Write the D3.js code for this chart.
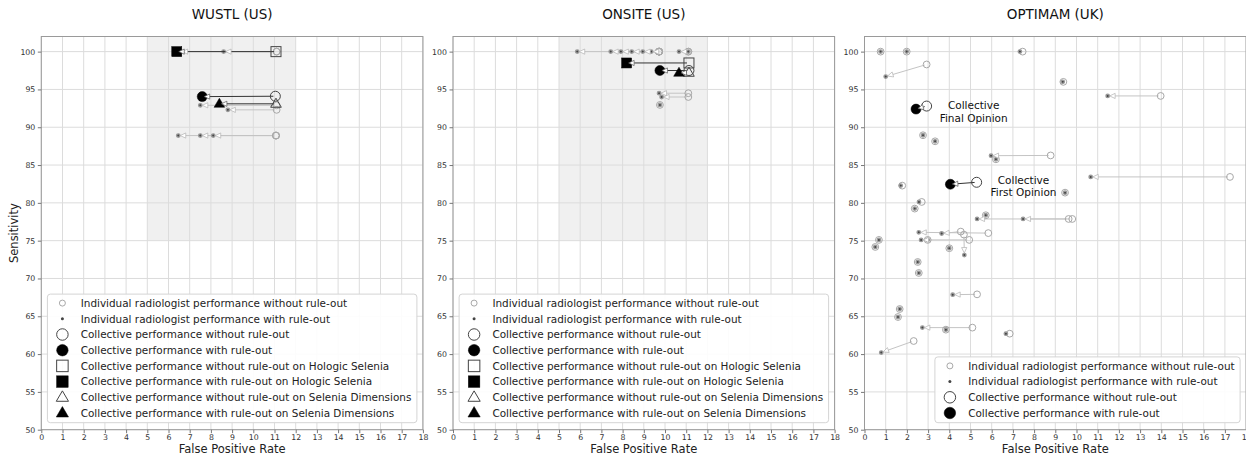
<!DOCTYPE html>
<html lang="en">
<head>
    <title>Rule-out performance</title>
    <meta charset="utf-8">
    <!-- Load d3.js -->
    <script src="https://d3js.org/d3.v7.min.js"></script>
    <style>
        body { margin: 0; background: #fff; }
        text { font-family: "DejaVu Sans", sans-serif; }
    </style>
</head>
<body>
<div id="visualization"></div>
<script>
    // ---------- data ----------
    const panelTitles = ["WUSTL (US)", "ONSITE (US)", "OPTIMAM (UK)"];
    const xTickValues = [0, 1, 2, 3, 4, 5, 6, 7, 8, 9, 10, 11, 12, 13, 14, 15, 16, 17, 18];
    const yTickValues = [50, 55, 60, 65, 70, 75, 80, 85, 90, 95, 100];
    const shadedFpr = [5, 12];
    const shadedSens = [75, 102];

    // individual radiologists, [false positive rate, sensitivity]
    const wustlIndWithout = [[11.1, 100], [11.1, 100], [11.1, 92.9], [11.1, 92.3], [11.07, 88.9], [11.07, 88.9], [11.07, 88.9]];
    const wustlIndWith = [[8.6, 100], [6.55, 100], [7.5, 92.9], [8.8, 92.3], [6.46, 88.9], [7.5, 88.9], [8.11, 88.9]];

    const onsiteIndWithout = [[9.72, 100], [9.72, 100], [9.72, 100], [9.72, 100], [9.72, 100], [9.72, 100], [11.1, 100], [11.1, 100],
        [11.1, 94.5], [11.1, 94.0], [9.76, 92.95]];
    const onsiteIndWith = [[5.86, 100], [7.44, 100], [7.92, 100], [8.43, 100], [8.95, 100], [9.35, 100], [10.66, 100], [11.1, 100],
        [9.72, 94.5], [9.84, 94.0], [9.76, 92.95]];

    const optimamIndWithout = [[0.76, 100], [1.99, 100], [7.46, 100], [2.93, 98.3], [9.38, 96.0], [13.97, 94.14], [2.76, 88.94],
        [3.33, 88.14], [8.78, 86.27], [6.2, 85.76], [17.24, 83.43], [1.78, 82.28], [9.46, 81.35], [2.7, 80.12], [2.37, 79.24],
        [5.72, 78.36], [9.63, 77.87], [9.8, 77.87], [5.84, 76.0], [4.54, 76.2], [4.69, 75.8], [4.94, 75.1], [2.98, 75.1],
        [0.68, 75.1], [0.51, 74.17], [4.0, 74.0], [2.51, 72.18], [2.56, 70.73], [5.31, 67.9], [1.66, 65.96], [1.58, 64.9],
        [5.09, 63.5], [3.84, 63.23], [6.85, 62.7], [2.32, 61.73]];
    const optimamIndWith = [[0.76, 100], [1.99, 100], [7.33, 100], [1.0, 96.7], [9.35, 96.0], [11.47, 94.14], [2.76, 88.94],
        [3.33, 88.14], [5.97, 86.24], [6.2, 85.76], [10.67, 83.43], [1.71, 82.28], [9.46, 81.35], [2.57, 80.12], [2.37, 79.24],
        [5.72, 78.36], [5.31, 77.87], [7.48, 77.87], [2.56, 76.1], [3.64, 75.95], [4.71, 73.1], [2.67, 75.1], [2.98, 75.1],
        [0.68, 75.1], [0.51, 74.17], [4.0, 74.0], [2.51, 72.18], [2.56, 70.73], [4.16, 67.86], [1.66, 65.96], [1.58, 64.9],
        [2.73, 63.5], [3.84, 63.23], [6.67, 62.7], [0.79, 60.2]];

    // collective performance
    const wustlCollShapes = ["square", "circle", "triangle"];
    const wustlCollWithout = [[11.07, 100], [11.04, 94.1], [11.07, 93.1]];
    const wustlCollWith = [[6.39, 100], [7.59, 94.05], [8.4, 93.1]];

    const onsiteCollShapes = ["square", "circle", "triangle"];
    const onsiteCollWithout = [[11.13, 98.5], [11.13, 97.5], [11.13, 97.2]];
    const onsiteCollWith = [[8.19, 98.5], [9.76, 97.5], [10.66, 97.2]];

    const optimamCollShapes = ["circle", "circle"];
    const optimamCollWithout = [[2.93, 92.8], [5.29, 82.72]];
    const optimamCollWith = [[2.43, 92.4], [4.05, 82.46]];

    const optimamNotes = [
        {lines: ["Collective", "Final Opinion"], at: [5.15, 92.9]},
        {lines: ["Collective", "First Opinion"], at: [7.5, 83.0]}
    ];

    const legendLabels = [
        "Individual radiologist performance without rule-out",
        "Individual radiologist performance with rule-out",
        "Collective performance without rule-out",
        "Collective performance with rule-out",
        "Collective performance without rule-out on Hologic Selenia",
        "Collective performance with rule-out on Hologic Selenia",
        "Collective performance without rule-out on Selenia Dimensions",
        "Collective performance with rule-out on Selenia Dimensions"
    ];
    const legendKinds = ["indOpen", "indDot", "circleOpen", "circleFill", "squareOpen", "squareFill", "triangleOpen", "triangleFill"];

    const panels = [
        {indWithout: wustlIndWithout, indWith: wustlIndWith, shapes: wustlCollShapes,
            collWithout: wustlCollWithout, collWith: wustlCollWith, shaded: true, legendCount: 8, notes: []},
        {indWithout: onsiteIndWithout, indWith: onsiteIndWith, shapes: onsiteCollShapes,
            collWithout: onsiteCollWithout, collWith: onsiteCollWith, shaded: true, legendCount: 8, notes: []},
        {indWithout: optimamIndWithout, indWith: optimamIndWith, shapes: optimamCollShapes,
            collWithout: optimamCollWithout, collWith: optimamCollWith, shaded: false, legendCount: 4, notes: optimamNotes}
    ];

    // ---------- layout ----------
    const width = 1246, height = 456;
    const panelLefts = [41.3, 453, 864.5];
    const plotWidth = 381.6, plotTop = 36.5, plotBottom = 429.7;

    const svg = d3.select("#visualization")
        .append("svg")
        .attr("width", width)
        .attr("height", height);

    // marker drawing helper
    const drawMarker = (g, kind, cx, cy, big) => {
        const s = big ? 1.15 : 1;
        if (kind === "indOpen") {
            g.append("circle").attr("cx", cx).attr("cy", cy).attr("r", big ? 3 : 3.4)
                .attr("fill", "none").attr("stroke", "#a8a8a8").attr("stroke-width", 1);
        } else if (kind === "indDot") {
            g.append("circle").attr("cx", cx).attr("cy", cy).attr("r", big ? 1.5 : 1.7)
                .attr("fill", "#444").attr("stroke", big ? "none" : "#9a9a9a").attr("stroke-width", 1.4);
        } else {
            const filled = kind.endsWith("Fill");
            const shape = kind.replace("Open", "").replace("Fill", "");
            let el;
            if (shape === "circle") {
                el = g.append("circle").attr("cx", cx).attr("cy", cy).attr("r", 5 * s);
            } else if (shape === "square") {
                const h = 5 * s;
                el = g.append("rect").attr("x", cx - h).attr("y", cy - h).attr("width", 2 * h).attr("height", 2 * h);
            } else {
                const h = 5.6 * s;
                el = g.append("path")
                    .attr("d", `M${cx},${cy - h}L${cx + h * 0.95},${cy + h * 0.62}L${cx - h * 0.95},${cy + h * 0.62}Z`);
            }
            el.attr("fill", filled ? "#000" : "none")
                .attr("stroke", filled ? "#000" : "#444")
                .attr("stroke-width", filled ? 0.5 : 1);
        }
    };

    // arrow from "without" point to "with" point, head at the "with" end
    const drawArrow = (g, sx, sy, tx, ty, lineColor, lineWidth) => {
        const dx = sx - tx, dy = sy - ty, len = Math.hypot(dx, dy);
        if (len < 5) return;
        const ux = dx / len, uy = dy / len;
        const tipX = tx + ux * 2, tipY = ty + uy * 2;
        const bx = tipX + ux * 5.5, by = tipY + uy * 5.5;
        const px = -uy, py = ux;
        g.append("line")
            .attr("x1", sx - ux * 2).attr("y1", sy - uy * 2)
            .attr("x2", bx).attr("y2", by)
            .attr("stroke", lineColor).attr("stroke-width", lineWidth);
        return `M${tipX},${tipY}L${bx + px * 2.6},${by + py * 2.6}L${bx - px * 2.6},${by - py * 2.6}Z`;
    };

    panels.forEach((p, i) => {
        const x = d3.scaleLinear().domain([0, 18]).range([panelLefts[i], panelLefts[i] + plotWidth]);
        const y = d3.scaleLinear().domain([50, 102]).range([plotBottom, plotTop]);
        const g = svg.append("g");

        // shaded reference band
        if (p.shaded) {
            g.append("rect")
                .attr("x", x(shadedFpr[0])).attr("y", y(shadedSens[1]))
                .attr("width", x(shadedFpr[1]) - x(shadedFpr[0]))
                .attr("height", y(shadedSens[0]) - y(shadedSens[1]))
                .attr("fill", "#f0f0f0");
        }

        // grid
        g.selectAll(".vgrid").data(xTickValues).join("line")
            .attr("x1", d => x(d)).attr("x2", d => x(d))
            .attr("y1", plotTop).attr("y2", plotBottom)
            .attr("stroke", "#dcdcdc").attr("stroke-width", 1);
        g.selectAll(".hgrid").data(yTickValues).join("line")
            .attr("x1", x(0)).attr("x2", x(18))
            .attr("y1", d => y(d)).attr("y2", d => y(d))
            .attr("stroke", "#dcdcdc").attr("stroke-width", 1);

        // frame
        g.append("rect")
            .attr("x", x(0)).attr("y", plotTop)
            .attr("width", plotWidth).attr("height", plotBottom - plotTop)
            .attr("fill", "none").attr("stroke", "#9a9a9a").attr("stroke-width", 1);

        // axes
        const xAxis = g.append("g")
            .attr("transform", `translate(0,${plotBottom})`)
            .call(d3.axisBottom(x).tickValues(xTickValues).tickSize(3.5).tickPadding(1.5));
        const yAxis = g.append("g")
            .attr("transform", `translate(${x(0)},0)`)
            .call(d3.axisLeft(y).tickValues(yTickValues).tickSize(3.5).tickPadding(2.5));
        [xAxis, yAxis].forEach(a => {
            a.select(".domain").remove();
            a.selectAll("line").attr("stroke", "#777");
            a.selectAll("text").attr("fill", "#333").style("font-size", "7.8px")
                .style("font-family", "'DejaVu Sans', sans-serif");
        });

        // title and axis labels
        g.append("text")
            .attr("x", x(9)).attr("y", 19)
            .attr("text-anchor", "middle")
            .style("font-size", "13.5px").attr("fill", "#111")
            .text(panelTitles[i]);
        g.append("text")
            .attr("x", x(9)).attr("y", 452.5)
            .attr("text-anchor", "middle")
            .style("font-size", "11.5px").attr("fill", "#222")
            .text("False Positive Rate");
        if (i === 0) {
            g.append("text")
                .attr("transform", `translate(18,${(plotTop + plotBottom) / 2}) rotate(-90)`)
                .attr("text-anchor", "middle")
                .style("font-size", "11.5px").attr("fill", "#222")
                .text("Sensitivity");
        }

        // individual arrows, markers, then heads on top
        const heads = [];
        p.indWithout.forEach((d, k) => {
            const w = p.indWith[k];
            const h = drawArrow(g, x(d[0]), y(d[1]), x(w[0]), y(w[1]), "#c4c4c4", 1);
            if (h) heads.push({d: h, stroke: "#b0b0b0"});
        });
        p.indWithout.forEach(d => drawMarker(g, "indOpen", x(d[0]), y(d[1]), false));
        p.indWith.forEach(d => drawMarker(g, "indDot", x(d[0]), y(d[1]), false));

        // collective
        p.collWithout.forEach((d, k) => {
            const w = p.collWith[k];
            const h = drawArrow(g, x(d[0]), y(d[1]), x(w[0]), y(w[1]), "#333", 1);
            if (h) heads.push({d: h, stroke: "#555"});
        });
        p.collWithout.forEach((d, k) => drawMarker(g, p.shapes[k] + "Open", x(d[0]), y(d[1]), false));
        p.collWith.forEach((d, k) => drawMarker(g, p.shapes[k] + "Fill", x(d[0]), y(d[1]), false));

        g.selectAll(".head").data(heads).join("path")
            .attr("d", d => d.d)
            .attr("fill", "#fff")
            .attr("stroke", d => d.stroke)
            .attr("stroke-width", 0.7);

        // annotations
        p.notes.forEach(n => {
            n.lines.forEach((line, k) => {
                g.append("text")
                    .attr("x", x(n.at[0]))
                    .attr("y", y(n.at[1]) + k * 12.3 + 4)
                    .attr("text-anchor", "middle")
                    .style("font-size", "10.5px").attr("fill", "#111")
                    .text(line);
            });
        });

        // legend, anchored lower right
        const rowGap = 15.7;
        const lg = g.append("g");
        const box = lg.append("rect");
        const texts = [];
        const labels = legendLabels.slice(0, p.legendCount);
        const boxBottom = plotBottom - 7;
        const boxTop = boxBottom - (labels.length - 1) * rowGap - 18.7;
        labels.forEach((label, k) => {
            const t = lg.append("text")
                .attr("y", boxTop + 9 + k * rowGap + 3.8)
                .style("font-size", "10.45px").attr("fill", "#222")
                .text(label);
            texts.push(t);
        });
        const textW = d3.max(texts, t => t.node().getComputedTextLength());
        const boxRight = x(18) - 6;
        const boxLeft = boxRight - (textW + 33.3 + 5.5);
        texts.forEach(t => t.attr("x", boxLeft + 33.3));
        box.attr("x", boxLeft).attr("y", boxTop)
            .attr("width", boxRight - boxLeft).attr("height", boxBottom - boxTop)
            .attr("rx", 3)
            .attr("fill", "#fff").attr("fill-opacity", 0.9)
            .attr("stroke", "#d4d4d4").attr("stroke-width", 1);
        labels.forEach((label, k) => {
            drawMarker(lg, legendKinds[k], boxLeft + 15, boxTop + 9 + k * rowGap, true);
        });
    });
</script>
</body>
</html>
